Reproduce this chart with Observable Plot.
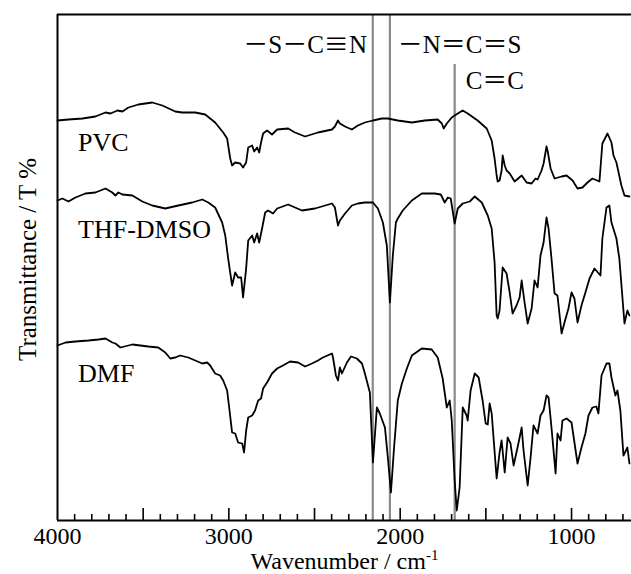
<!DOCTYPE html>
<html><head><meta charset="utf-8">
<script src="https://cdn.jsdelivr.net/npm/d3@7"></script>
<script src="https://cdn.jsdelivr.net/npm/@observablehq/plot@0.6"></script>
<style>body{margin:0;background:#fff} svg{display:block}</style>
</head><body><div id="chart"></div>
<script>
// PVC spectrum (wavenumber cm-1, offset transmittance)
const pvcWn = [4000,3936,3854,3779,3720,3691,3650,3621,3586,3528,3447,3388,3313,3272,3196,3138,3080,3033,3010,2992,2981,2963,2934,2917,2899,2887,2864,2852,2835,2823,2812,2800,2777,2748,2718,2654,2614,2555,2480,2398,2381,2363,2352,2322,2282,2247,2206,2159,2107,2072,2014,1932,1856,1781,1757,1746,1728,1699,1664,1635,1606,1548,1495,1466,1449,1437,1431,1420,1408,1402,1390,1379,1361,1332,1291,1262,1233,1210,1198,1175,1163,1146,1140,1122,1099,1058,1029,994,965,936,907,878,837,820,790,767,755,738,709,691,662];
const pvcT  = [80.0,80.2,80.4,80.8,81.6,81.4,82.0,81.8,82.6,83.2,83.6,83.0,81.8,81.6,81.6,81.2,79.6,77.6,76.4,72.4,71.0,71.6,71.4,70.6,71.6,74.6,75.0,73.8,74.6,73.6,75.6,77.4,78.0,77.2,78.2,78.4,77.6,76.8,77.6,78.2,78.8,80.0,79.4,78.8,78.2,79.0,79.6,80.0,80.4,80.4,80.0,79.6,80.0,80.2,79.4,78.4,79.4,80.6,81.4,82.0,81.4,80.0,78.4,76.0,72.4,69.0,67.8,68.0,70.0,73.0,71.0,70.0,69.4,67.8,69.0,67.6,67.4,68.4,68.2,70.0,71.4,74.8,74.0,70.4,68.4,68.8,69.0,68.0,66.4,66.6,67.6,68.4,67.8,75.4,77.4,75.6,73.0,71.6,67.0,65.0,64.8];

// THF-DMSO spectrum
const thfWn = [4000,3971,3936,3895,3837,3779,3720,3680,3662,3645,3621,3563,3505,3447,3371,3295,3214,3155,3120,3080,3039,3021,3004,2981,2963,2946,2928,2917,2899,2887,2864,2852,2835,2823,2806,2788,2771,2742,2718,2654,2573,2497,2398,2381,2363,2352,2322,2282,2247,2206,2159,2130,2101,2078,2060,2043,2025,2014,1985,1932,1874,1798,1763,1740,1722,1705,1682,1664,1635,1594,1565,1524,1489,1466,1449,1437,1431,1420,1402,1379,1361,1344,1321,1303,1291,1274,1256,1233,1216,1198,1181,1163,1146,1134,1117,1099,1082,1058,1041,1018,1000,983,965,942,919,895,866,831,820,796,779,767,738,721,691,674,662];
const thfT  = [64.0,64.4,63.8,64.6,65.4,65.6,66.4,65.6,65.0,65.6,65.2,65.0,63.8,63.0,62.4,63.0,63.6,64.2,63.6,62.6,59.6,57.0,52.4,47.0,49.6,48.6,48.6,44.6,50.4,56.0,57.0,55.6,57.4,55.6,58.4,61.6,62.0,61.4,62.4,63.2,62.0,62.4,63.4,62.6,59.0,60.0,61.4,63.0,63.4,63.6,63.6,62.4,59.6,55.0,43.6,53.0,59.6,60.4,62.0,64.0,65.4,65.4,65.2,63.6,64.6,64.4,59.4,62.4,63.4,63.8,64.8,63.6,61.0,58.4,51.6,41.0,40.4,42.0,50.6,49.4,45.6,41.4,43.0,44.6,48.0,43.6,39.4,42.4,48.0,46.6,53.0,55.6,60.6,58.4,52.4,45.4,45.0,37.4,39.6,42.4,45.6,44.4,39.6,43.0,45.6,48.4,50.4,49.0,56.4,62.6,63.0,59.6,56.4,52.4,39.4,42.0,41.0];

// DMF spectrum
const dmfWn = [4000,3953,3895,3819,3761,3720,3680,3662,3633,3563,3470,3412,3371,3342,3313,3284,3237,3196,3155,3126,3109,3080,3051,3033,3010,2998,2981,2963,2946,2922,2911,2899,2887,2864,2847,2829,2812,2800,2777,2748,2718,2684,2643,2596,2555,2515,2480,2451,2398,2392,2375,2363,2352,2340,2311,2287,2253,2223,2206,2177,2159,2136,2119,2089,2072,2054,2037,2014,1990,1961,1932,1874,1816,1781,1752,1728,1711,1699,1682,1670,1653,1635,1612,1606,1589,1565,1542,1519,1501,1489,1478,1466,1437,1420,1408,1390,1373,1356,1338,1315,1291,1280,1256,1239,1222,1198,1181,1163,1146,1134,1117,1093,1082,1064,1053,1029,1000,965,942,919,901,878,855,843,825,796,779,767,744,732,715,697,674,662];
const dmfT  = [35.0,35.6,35.8,36.0,36.2,36.4,35.6,35.4,34.6,35.2,34.8,34.6,33.6,32.4,32.6,33.0,32.6,32.0,31.4,31.6,31.0,29.4,29.0,28.0,26.0,22.6,17.6,17.4,15.6,15.4,13.6,18.0,20.6,21.0,22.0,24.0,24.4,26.4,27.6,29.4,30.4,31.0,31.8,31.6,30.8,31.4,32.0,32.6,33.4,32.6,29.0,28.0,30.6,29.4,31.6,32.8,32.4,31.4,29.4,25.6,11.6,22.6,21.4,18.6,12.6,5.6,14.0,24.0,27.4,30.4,33.0,34.4,34.2,32.6,28.4,22.6,24.0,20.0,8.0,2.0,6.6,22.6,21.0,20.0,26.0,29.4,28.6,24.0,19.4,19.2,23.4,21.4,8.4,13.6,16.0,9.6,16.6,15.4,11.0,14.6,18.6,14.0,7.0,12.6,19.0,17.4,21.0,22.0,25.0,24.6,18.6,9.4,17.4,16.0,20.0,20.4,19.6,11.4,14.6,17.4,21.0,22.6,22.8,21.4,29.0,31.4,31.4,28.6,25.0,26.0,22.0,13.0,14.6,11.4];

const seriesNames = ["PVC", "THF-DMSO", "DMF"];
const labelWn = [3880, 3880, 3880];
const labelT = [74.0, 56.6, 27.8];

const bondLabels = ["\uFF0DS\uFF0DC\u2261N", "\uFF0DN\uFF1DC\uFF1DS", "C\uFF1DC"];
const bondLineWn = [2160, 2060, 1682];
const bondTextWn = [2194, 2014, 1618];
const bondTextT = [93.6, 93.6, 86.4];

const tickLabels = [4000, 3000, 2000, 1000];
const majorTicks = [3500, 3000, 2500, 2000, 1500, 1000];
const minorTicks = [3900,3800,3700,3600,3400,3300,3200,3100,2900,2800,2700,2600,2400,2300,2200,2100,1900,1800,1700,1600,1400,1300,1200,1100,900,800,700];

const xLabel = "Wavenumber / cm";
const yLabel = "Transmittance / T %";

const yDomain = [0, 101.2];
const xDomain = [4000, 650];

const spectra = [
  ...pvcWn.map((w, i) => ({series: seriesNames[0], wn: w, t: pvcT[i]})),
  ...thfWn.map((w, i) => ({series: seriesNames[1], wn: w, t: thfT[i]})),
  ...dmfWn.map((w, i) => ({series: seriesNames[2], wn: w, t: dmfT[i]}))
];
const labels = seriesNames.map((s, i) => ({s, wn: labelWn[i], t: labelT[i]}));
const bonds = bondLabels.map((s, i) => ({s, wn: bondTextWn[i], t: bondTextT[i]}));

const font = "'Liberation Serif', 'Times New Roman', 'Noto Sans CJK JP', serif";

const chart = Plot.plot({
  width: 631, height: 574,
  marginLeft: 57, marginRight: 0, marginTop: 14, marginBottom: 54,
  style: {fontFamily: font, background: "white", color: "black", overflow: "visible"},
  x: {domain: xDomain, axis: null},
  y: {domain: yDomain, axis: null},
  marks: [
    Plot.ruleX(bondLineWn.slice(0, 2), {stroke: "#8a8a8a", strokeWidth: 2.2}),
    Plot.ruleX(bondLineWn.slice(2), {y1: yDomain[0], y2: 91.2, stroke: "#8a8a8a", strokeWidth: 2.2}),
    Plot.lineY(spectra, {x: "wn", y: "t", z: "series", stroke: "black", strokeWidth: 1.8, strokeLinejoin: "round"}),
    Plot.ruleX([xDomain[0]], {stroke: "black", strokeWidth: 2}),
    Plot.ruleY([yDomain[0]], {stroke: "black", strokeWidth: 2}),
    Plot.ruleY([yDomain[1]], {stroke: "black", strokeWidth: 2}),
    Plot.ruleX(minorTicks, {y1: yDomain[0], y2: 1.2, stroke: "black", strokeWidth: 1.6}),
    Plot.ruleX(majorTicks, {y1: yDomain[0], y2: 2.4, stroke: "black", strokeWidth: 1.6}),
    Plot.text(tickLabels, {x: d => d, y: yDomain[0], text: d => String(d), lineAnchor: "top", dy: 6, fontSize: 24, fill: "black"}),
    Plot.text([xLabel], {frameAnchor: "bottom", text: d => d, lineAnchor: "bottom", dy: 48, fontSize: 24, fill: "black"}),
    Plot.text([yLabel], {frameAnchor: "left", text: d => d, rotate: -90, textAnchor: "middle", lineAnchor: "bottom", dx: -22, dy: -8, fontSize: 25, fill: "black"}),
    Plot.text(labels, {x: "wn", y: "t", text: "s", textAnchor: "start", lineAnchor: "bottom", fontSize: 26, fill: "black"}),
    Plot.text(bonds.slice(0, 1), {x: "wn", y: "t", text: "s", textAnchor: "end", lineAnchor: "bottom", fontSize: 25, fill: "black"}),
    Plot.text(bonds.slice(1), {x: "wn", y: "t", text: "s", textAnchor: "start", lineAnchor: "bottom", fontSize: 25, fill: "black"})
  ]
});
// real-text superscript for the unit
d3.select(chart).selectAll("text").filter(function() { return this.textContent === xLabel; })
  .append("tspan").attr("dy", "-0.55em").attr("font-size", "15px").text("-1");
// full-width triple bond glyph (as in the reference's CJK typesetting)
d3.select(chart).selectAll("text").filter(function() { return this.textContent === bondLabels[0]; })
  .each(function() {
    const t = d3.select(this);
    const s = bondLabels[0];
    const k = s.indexOf("\u2261");
    t.text(null);
    t.append("tspan").text(s.slice(0, k));
    t.append("tspan").attr("font-family", "'Noto Sans CJK JP'").text("\u2261");
    t.append("tspan").text(s.slice(k + 1));
  });
document.getElementById("chart").appendChild(chart);
</script>
</body></html>
